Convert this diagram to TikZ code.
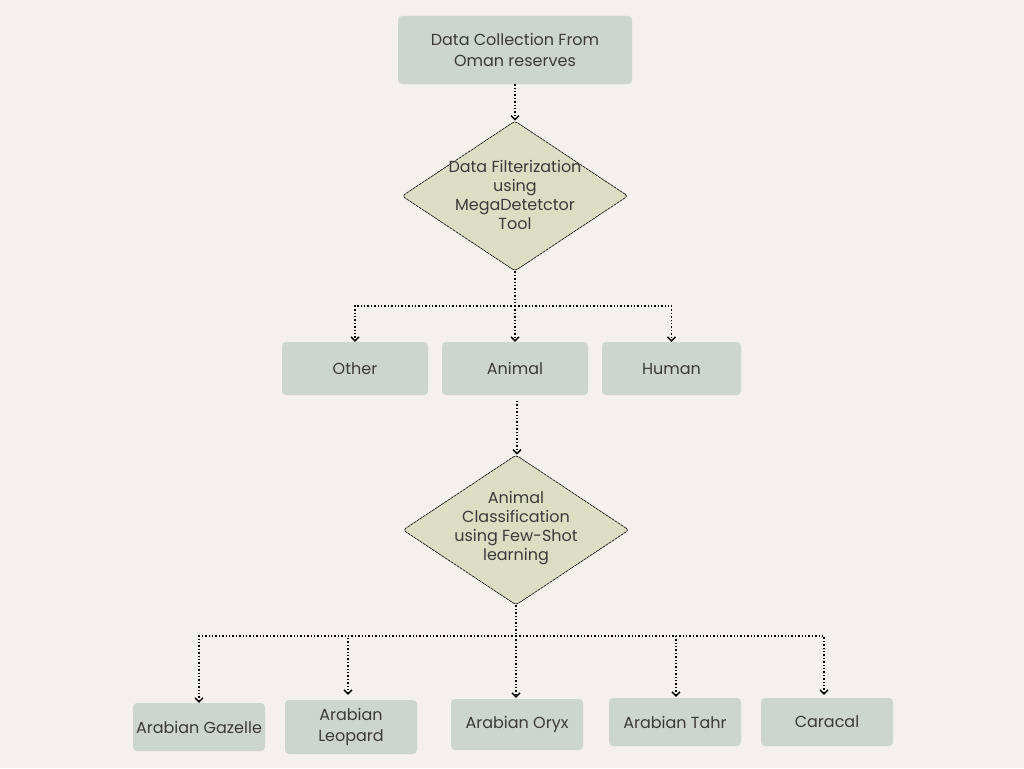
\documentclass[tikz,border=0pt]{standalone}
\usepackage{fontspec}
\setmainfont{Poppins}
\usetikzlibrary{arrows.meta,shapes.geometric,calc}
\definecolor{bg}{HTML}{F4F0EB}
\definecolor{boxfill}{HTML}{CDD6CE}
\definecolor{diafill}{HTML}{DCDEC4}
\definecolor{txt}{HTML}{3A3A3A}
\begin{document}
\begin{tikzpicture}[x=1pt,y=-1pt,
  box/.style={rectangle,rounded corners=4pt,fill=boxfill,inner sep=0pt,
    text=txt,font=\fontsize{16}{21.5}\selectfont,align=center},
  dia/.style={diamond,fill=diafill,draw=black!90,line width=0.7pt,
    dash pattern=on 3pt off 0.7pt,rounded corners=3pt,
    minimum width=226pt,minimum height=150pt,inner sep=0pt},
  dtext/.style={text=txt,font=\fontsize{16}{19}\selectfont,align=center,inner sep=0pt},
  conn/.style={line width=1.4pt,dotted,black},
  arr/.style={conn,-{Straight Barb[length=4pt,width=8pt,line width=1.4pt]}}
]
\useasboundingbox[fill=bg] (0,0) rectangle (1024,768);

% top box
\node[box,minimum width=234pt,minimum height=68pt] (top) at (515,50) {Data Collection From\\Oman reserves};

% diamond 1
\node[dia] (d1) at (515,196) {};
\node[dtext] (d1t) at (515,195) {Data Filterization\\using\\MegaDetetctor\\Tool};

% level 2 boxes
\node[box,minimum width=146pt,minimum height=53pt] (other) at (355,368.5) {Other};
\node[box,minimum width=146pt,minimum height=53pt] (animal) at (515,368.5) {Animal};
\node[box,minimum width=139pt,minimum height=53pt] (human) at (671.5,368.5) {Human};

% diamond 2
\node[dia] (d2) at (516,530) {};
\node[dtext] (d2t) at (516,528) {Animal\\Classification\\using Few-Shot\\learning};

% leaves
\node[box,minimum width=132pt,minimum height=48pt] (gaz) at (199,727) {Arabian Gazelle};
\node[box,minimum width=132pt,minimum height=54pt] (leo) at (351,727) {Arabian\\Leopard};
\node[box,minimum width=132pt,minimum height=51pt] (ory) at (517,724.5) {Arabian Oryx};
\node[box,minimum width=132pt,minimum height=48pt] (tah) at (675,722) {Arabian Tahr};
\node[box,minimum width=132pt,minimum height=48pt] (car) at (827,722) {Caracal};

% connectors
\coordinate (b1) at (515,306);
\coordinate (a2) at (517,401);
\coordinate (b2) at (516,636);
\draw[arr] (top.south) -- (d1.north);
\draw[conn] (d1.south) -- (b1);
\draw[arr] (b1) -| (other.north);
\draw[arr] (b1) -- (animal.north -| b1);
\draw[arr] (b1) -| (human.north);
\draw[arr] (a2) -- (a2 |- d2.north);

\draw[conn] (d2.south) -- (b2);
\draw[arr] (b2) -| (gaz.north);
\draw[arr] (b2) -| ($(leo.north)+(-3,-5)$);
\draw[arr] (b2) -- ($(ory.north -| b2)+(0,-1)$);
\draw[arr] (b2) -| ($(tah.north)+(1,-1)$);
\draw[arr] (b2) -| ($(car.north)+(-3,-3)$);
\end{tikzpicture}
\end{document}
